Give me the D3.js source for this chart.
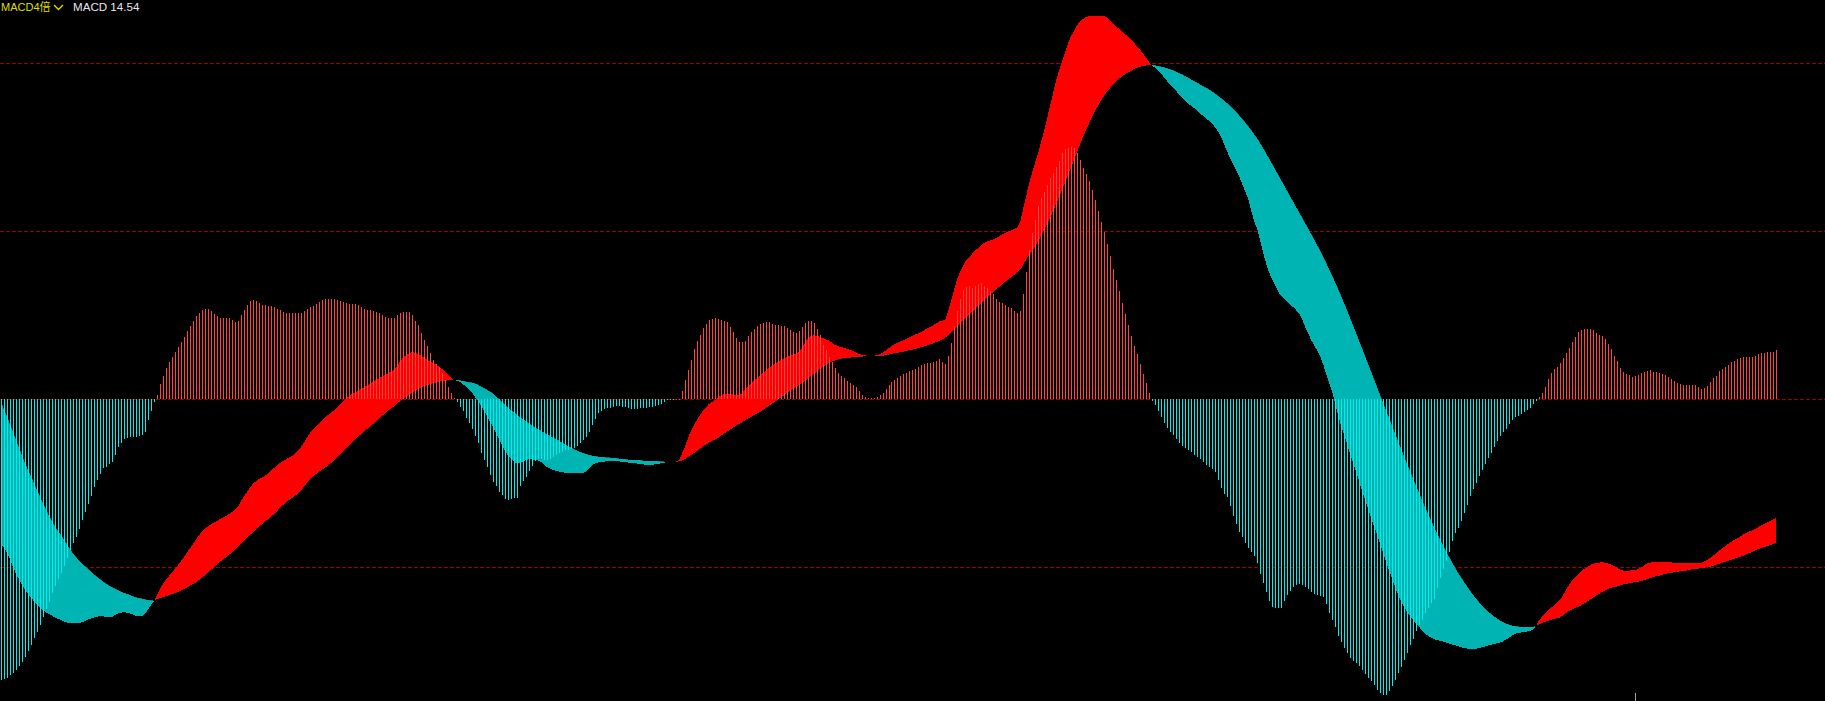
<!DOCTYPE html>
<html><head><meta charset="utf-8">
<script src="https://cdn.jsdelivr.net/npm/d3@7"></script>
<style>html,body{margin:0;padding:0;background:#000;overflow:hidden}</style>
</head><body>
<svg id="chart" width="1825" height="701"></svg>
<script>
// MACD histogram (red above zero, cyan below)
const macd = [
-83.5,-83.2,-82.8,-82.2,-81.5,-80.6,-79.5,-78.2,-76.7,-75.0,
-73.1,-71.1,-69.3,-67.2,-64.9,-62.5,-60.2,-57.7,-55.5,-53.6,
-51.6,-49.5,-47.3,-44.9,-42.7,-40.9,-38.6,-35.9,-33.4,-31.2,
-28.8,-26.0,-24.0,-22.2,-20.5,-20.1,-19.4,-18.6,-16.6,-14.1,
-13.1,-11.8,-11.6,-11.1,-11.1,-11.1,-10.9,-10.6,-9.6,-6.2,
-3.4,-0.7,
1.3,4.6,7.0,9.2,11.0,12.6,14.2,15.6,
17.0,18.6,20.2,21.8,23.4,24.8,25.8,26.6,27.0,26.9,
26.2,25.5,24.8,24.3,24.1,24.1,24.1,23.6,23.1,23.3,
25.0,26.6,28.2,29.4,29.7,29.2,28.6,28.2,28.0,27.9,
27.8,27.5,27.0,26.5,26.0,25.8,25.7,25.7,25.6,25.6,
25.8,26.2,26.8,27.4,27.9,28.3,28.9,29.5,29.9,30.0,
29.9,29.8,29.6,29.4,29.1,28.8,28.5,28.4,28.3,28.0,
27.4,26.9,26.7,26.5,26.3,26.0,25.7,25.1,24.5,24.1,
24.1,24.3,25.0,25.7,25.9,26.1,25.9,25.0,23.4,22.1,
19.6,17.6,15.9,13.7,11.7,10.5,9.6,7.8,5.7,3.8,
2.0,0.3,
-0.7,-2.2,-3.4,-5.7,-7.1,-8.9,-10.9,-12.9,
-15.9,-18.1,-20.1,-22.5,-24.5,-25.8,-27.5,-28.5,-29.8,-30.0,
-29.8,-29.5,-29.5,-25.8,-24.3,-23.0,-21.2,-19.8,-18.3,-17.9,
-17.9,-18.1,-18.1,-17.9,-17.3,-16.6,-16.1,-15.6,-15.1,-15.1,
-14.9,-14.6,-13.9,-13.1,-12.1,-11.3,-9.6,-7.6,-6.0,-4.2,
-3.4,-3.0,-2.7,-2.5,-2.2,-2.0,-2.0,-2.2,-2.4,-2.7,
-3.0,-3.0,-3.0,-2.7,-2.7,-2.5,-2.2,-2.2,-2.0,-1.7,
-1.4,-0.7,-0.2,-0.1,-0.2,0.1,
0.2,2.5,5.7,8.7,
11.7,15.0,17.4,19.2,21.1,22.4,23.6,24.0,24.1,23.9,
23.6,23.4,23.0,21.5,20.0,18.3,17.0,17.0,17.5,18.9,
19.9,20.9,21.8,22.4,22.8,23.0,23.0,22.5,22.0,22.0,
21.9,21.8,21.3,20.7,20.0,19.7,20.4,21.6,22.6,23.3,
23.2,22.8,21.0,19.2,16.2,14.6,12.7,11.1,9.4,7.9,
7.0,6.2,5.5,4.9,4.4,3.6,2.5,1.4,0.7,0.5,
0.4,0.5,0.8,1.2,1.9,3.2,4.3,5.0,5.6,6.3,
7.0,7.4,7.8,8.3,8.8,9.1,9.6,10.1,10.5,10.7,
10.9,11.1,11.5,11.9,11.1,10.5,12.9,16.7,21.8,26.3,
30.0,32.4,33.4,33.7,33.0,33.7,34.3,34.7,33.7,33.0,
32.3,31.2,29.9,29.1,28.6,28.1,27.6,27.1,26.3,25.8,
26.2,31.2,37.9,44.4,49.6,53.4,57.4,59.8,61.8,63.8,
65.8,67.4,69.0,71.0,73.2,74.4,74.9,75.0,74.8,73.2,
71.2,68.9,67.2,64.9,62.4,59.3,56.0,52.8,49.7,46.3,
42.7,38.9,35.5,32.3,28.8,25.3,22.1,18.7,16.0,13.5,
10.6,7.6,4.9,2.0,
-0.6,-1.8,-3.4,-5.2,-7.0,-8.5,
-9.7,-10.5,-11.8,-13.1,-13.8,-14.4,-15.1,-15.8,-16.5,-17.2,
-17.8,-18.6,-19.5,-20.1,-20.6,-21.6,-24.0,-26.5,-28.3,-29.2,
-31.8,-34.7,-37.2,-39.5,-41.1,-42.7,-44.3,-45.5,-46.7,-48.8,
-52.0,-54.6,-57.3,-60.0,-61.8,-62.1,-62.2,-62.0,-60.0,-58.3,
-57.0,-56.0,-55.3,-54.9,-55.2,-55.9,-56.6,-57.3,-57.8,-58.1,
-58.4,-58.8,-60.8,-63.5,-65.7,-67.8,-70.3,-72.1,-74.1,-75.6,
-77.1,-77.9,-78.6,-79.3,-80.6,-81.8,-82.9,-83.8,-85.0,-86.4,
-87.5,-88.1,-88.1,-86.8,-85.3,-83.4,-81.6,-79.6,-77.7,-75.4,
-73.0,-71.3,-69.0,-67.1,-65.6,-63.5,-62.1,-60.7,-59.5,-56.3,
-53.3,-50.6,-48.2,-45.4,-42.3,-39.8,-38.2,-36.3,-33.8,-31.4,
-28.9,-26.8,-24.9,-22.9,-20.9,-19.2,-17.6,-16.1,-14.2,-12.5,
-10.8,-9.7,-8.9,-7.4,-6.1,-5.3,-4.9,-4.4,-3.9,-3.1,
-2.5,-1.4,-0.5,
0.8,1.9,3.7,6.0,7.7,8.9,9.7,
10.9,12.4,13.8,15.3,17.0,18.4,20.0,20.6,20.9,20.9,
20.8,20.5,19.8,19.2,18.7,17.9,16.5,14.9,13.0,11.5,
9.2,8.1,7.5,7.1,6.6,6.8,7.3,7.7,8.2,8.5,
8.6,8.2,8.0,7.9,7.6,7.2,6.6,6.0,5.3,4.8,
4.5,4.2,4.2,4.4,4.4,4.2,3.7,3.0,3.4,4.0,
5.2,6.3,6.9,8.4,9.0,9.6,10.2,11.1,11.4,12.0,
12.3,12.5,12.6,12.6,12.7,13.0,13.5,13.8,13.9,14.1,
14.1,14.1,14.54
];

// DIF line
const dif = [
-42.9,-44.2,-45.6,-47.6,-49.9,-51.9,-53.6,-55.2,-56.6,-57.8,
-59.0,-60.1,-61.2,-62.0,-62.8,-63.4,-63.9,-64.4,-64.9,-65.3,
-65.7,-66.1,-66.4,-66.6,-66.7,-66.7,-66.6,-66.4,-66.0,-65.5,
-65.2,-64.9,-64.7,-64.5,-64.6,-64.8,-64.9,-64.8,-64.2,-63.7,
-63.5,-63.4,-63.5,-63.7,-64.1,-64.5,-64.5,-64.5,-63.8,-62.7,
-61.2,-60.2,
-58.3,-56.5,-55.0,-53.7,-52.6,-51.5,-50.5,-49.4,
-48.2,-47.0,-45.7,-44.4,-43.1,-41.8,-40.5,-39.4,-38.5,-37.8,
-37.2,-36.7,-36.2,-35.7,-35.2,-34.7,-34.2,-33.6,-33.0,-32.0,
-30.4,-29.0,-27.6,-26.3,-25.2,-24.4,-23.8,-23.3,-22.8,-22.1,
-21.3,-20.5,-19.7,-19.0,-18.4,-17.9,-17.4,-16.9,-16.2,-15.2,
-14.3,-12.9,-11.5,-10.1,-9.1,-8.1,-7.2,-6.3,-5.5,-4.7,
-4.0,-3.3,-2.5,-1.7,-0.8,0.1,0.9,1.5,2.0,2.5,
3.0,3.5,4.1,4.6,5.1,5.8,6.2,6.7,7.2,7.7,
8.2,8.7,9.6,11.2,12.3,13.1,13.6,14.0,13.9,13.5,
13.0,12.4,11.8,11.3,10.9,10.4,9.8,9.1,8.3,7.5,
6.5,5.8,
5.5,5.2,4.5,3.9,3.0,2.1,0.8,-0.4,
-1.7,-3.2,-4.9,-6.5,-8.1,-10.0,-11.7,-13.5,-15.1,-16.8,
-17.6,-18.5,-19.1,-19.1,-18.6,-18.1,-17.9,-17.9,-18.0,-18.1,
-18.6,-19.3,-20.1,-20.6,-21.0,-21.3,-21.5,-21.6,-21.8,-21.8,
-21.8,-21.8,-21.9,-22.0,-22.0,-21.5,-20.6,-19.8,-19.1,-18.8,
-18.7,-18.6,-18.4,-18.3,-18.3,-18.3,-18.4,-18.6,-18.7,-18.8,
-19.0,-19.1,-19.1,-19.2,-19.3,-19.5,-19.6,-19.5,-19.4,-19.3,
-19.1,-18.9,-18.7,-18.7,-18.6,-18.6,
-18.2,-16.4,-14.3,-11.9,
-9.6,-7.9,-6.3,-4.9,-3.5,-2.5,-1.5,-0.9,-0.3,0.4,
1.1,1.5,1.7,1.6,1.5,1.3,1.2,1.7,2.8,3.7,
4.6,5.5,6.2,6.9,7.7,8.5,9.3,9.9,10.6,11.0,
11.6,12.1,12.6,12.9,13.2,13.5,14.0,15.0,16.6,18.0,
18.8,19.0,18.9,18.6,18.2,17.9,17.5,16.9,16.3,15.9,
15.6,15.4,15.1,14.8,14.4,14.0,13.6,13.3,13.1,13.0,
13.0,13.0,13.1,13.4,13.9,14.5,15.2,15.8,16.5,16.8,
17.2,17.6,18.0,18.4,18.9,19.3,19.7,20.1,20.6,21.1,
21.6,22.1,22.6,23.2,23.4,23.8,26.5,29.7,33.0,36.0,
38.2,40.0,41.5,42.3,43.4,44.3,45.1,45.9,46.6,47.1,
47.3,47.6,48.0,48.6,49.1,49.6,50.0,50.3,50.7,51.3,
53.0,57.0,60.8,64.5,67.8,70.7,73.6,77.0,80.2,84.0,
87.8,91.5,95.2,98.2,100.8,103.5,106.2,108.3,109.8,111.5,
112.5,113.3,113.8,114.1,114.2,114.2,114.2,114.2,114.1,113.6,
112.6,111.8,110.9,110.2,109.4,108.6,107.9,107.0,106.0,104.9,
103.9,102.8,101.5,100.2,
99.2,98.6,97.8,96.9,95.7,94.6,
93.6,92.7,91.7,90.6,89.6,88.7,88.0,87.3,86.6,85.8,
85.0,84.3,83.5,82.8,82.0,80.8,79.6,77.9,75.8,73.6,
71.6,69.8,68.0,66.2,64.0,61.7,59.7,56.0,53.0,50.5,
47.0,43.5,40.2,37.6,35.5,33.7,32.0,30.7,29.8,29.0,
28.2,27.4,26.5,25.5,23.7,21.5,19.5,17.6,16.0,14.5,
12.8,10.3,7.5,4.8,2.1,-1.3,-4.9,-8.0,-10.7,-13.5,
-16.2,-19.0,-21.7,-24.5,-27.3,-30.0,-32.7,-35.5,-37.9,-40.3,
-43.0,-45.8,-48.5,-51.0,-53.5,-56.0,-58.2,-60.2,-61.8,-63.3,
-64.5,-65.7,-66.8,-67.8,-68.8,-69.7,-70.4,-70.9,-71.4,-71.7,
-71.9,-72.1,-72.4,-72.7,-73.0,-73.2,-73.5,-73.8,-74.0,-74.2,
-74.4,-74.4,-74.2,-74.0,-73.8,-73.6,-73.3,-73.0,-72.8,-72.6,
-72.4,-72.0,-71.5,-70.9,-70.3,-69.8,-69.5,-69.4,-69.3,-69.1,
-68.9,-68.6,-67.3,
-65.8,-64.6,-63.6,-62.7,-62.0,-61.4,-60.6,
-59.6,-58.3,-56.6,-55.2,-53.9,-52.9,-52.0,-51.2,-50.5,-50.0,
-49.4,-48.9,-48.7,-48.6,-48.5,-48.6,-48.9,-49.2,-49.6,-50.1,
-50.7,-51.0,-51.0,-51.0,-50.9,-50.8,-50.5,-50.1,-49.4,-48.9,
-48.6,-48.5,-48.4,-48.3,-48.3,-48.3,-48.3,-48.5,-48.7,-48.8,
-48.8,-48.7,-48.6,-48.6,-48.6,-48.6,-48.7,-48.8,-48.3,-47.8,
-47.2,-46.6,-45.9,-45.1,-44.4,-43.7,-43.1,-42.5,-41.9,-41.4,
-40.9,-40.3,-39.8,-39.4,-39.0,-38.6,-38.1,-37.6,-37.1,-36.6,
-36.2,-35.8,-35.4
];

// DEA line
const dea = [
-0.5,-3.0,-5.0,-7.5,-9.6,-12.0,-14.3,-16.6,-18.9,-21.0,
-22.8,-24.8,-26.9,-28.8,-30.8,-32.7,-34.6,-36.2,-37.8,-39.2,
-40.3,-41.7,-43.1,-44.5,-45.8,-46.9,-47.9,-48.8,-49.6,-50.4,
-51.2,-52.0,-52.8,-53.5,-54.2,-54.8,-55.4,-55.9,-56.3,-56.8,
-57.2,-57.6,-57.9,-58.2,-58.6,-58.9,-59.1,-59.3,-59.5,-59.7,
-59.8,-59.9,
-59.5,-59.2,-58.9,-58.6,-58.3,-58.0,-57.7,-57.4,
-57.0,-56.5,-56.0,-55.5,-55.0,-54.5,-53.8,-53.1,-52.4,-51.6,
-50.8,-50.0,-49.2,-48.4,-47.7,-47.0,-46.3,-45.6,-44.8,-44.0,
-43.1,-42.2,-41.3,-40.4,-39.6,-38.8,-38.0,-37.2,-36.4,-35.7,
-35.0,-34.2,-33.3,-32.4,-31.5,-30.7,-30.0,-29.4,-28.8,-28.0,
-27.2,-26.1,-24.9,-23.8,-23.0,-22.3,-21.6,-21.0,-20.4,-19.7,
-19.0,-18.2,-17.4,-16.5,-15.6,-14.7,-13.8,-12.9,-12.0,-11.2,
-10.4,-9.6,-8.9,-8.2,-7.4,-6.6,-5.8,-5.0,-4.2,-3.5,
-2.8,-2.1,-1.4,-0.6,0.1,0.7,1.3,1.9,2.5,3.0,
3.5,3.9,4.2,4.5,4.8,5.0,5.2,5.4,5.5,5.6,
5.7,5.8,
5.8,5.7,5.5,5.3,5.1,5.0,4.8,4.4,
3.9,3.4,2.9,2.4,1.8,1.0,0.2,-0.7,-1.5,-2.4,
-3.1,-3.8,-4.5,-5.2,-5.8,-6.4,-7.1,-7.7,-8.3,-8.8,
-9.3,-9.8,-10.3,-10.8,-11.3,-11.8,-12.2,-12.8,-13.3,-13.8,
-14.3,-14.8,-15.2,-15.6,-15.9,-16.2,-16.5,-16.7,-16.9,-17.0,
-17.1,-17.2,-17.3,-17.3,-17.4,-17.5,-17.6,-17.7,-17.8,-17.9,
-18.0,-18.0,-18.1,-18.1,-18.2,-18.3,-18.4,-18.4,-18.4,-18.4,
-18.5,-18.5,-18.6,-18.6,-18.6,-18.6,
-18.5,-18.3,-17.9,-17.3,
-16.7,-16.1,-15.5,-14.8,-14.1,-13.5,-13.0,-12.5,-12.1,-11.6,
-10.9,-10.3,-9.7,-9.1,-8.5,-7.9,-7.4,-6.9,-6.3,-5.8,
-5.3,-4.8,-4.3,-3.8,-3.3,-2.6,-2.0,-1.4,-0.8,-0.2,
0.5,1.1,1.8,2.4,3.0,3.6,4.2,4.8,5.4,6.1,
6.8,7.5,8.2,8.9,9.6,10.2,10.7,11.2,11.5,11.8,
12.1,12.2,12.3,12.4,12.5,12.6,12.7,12.7,12.8,12.8,
12.8,12.8,12.8,12.9,13.0,13.1,13.3,13.5,13.7,13.8,
14.0,14.2,14.4,14.6,14.8,15.0,15.3,15.5,15.8,16.1,
16.4,16.7,17.0,17.4,17.8,18.4,19.1,19.9,20.9,21.8,
22.8,23.6,24.5,25.3,26.1,27.0,27.9,28.7,29.6,30.4,
31.3,32.0,32.8,33.5,34.3,35.0,35.7,36.4,37.1,37.9,
38.7,40.1,41.8,43.0,44.3,45.7,47.1,48.8,50.5,52.3,
54.2,56.2,58.3,60.4,62.6,64.8,67.0,69.3,71.6,73.8,
76.1,78.3,80.4,82.3,84.2,86.0,87.6,89.1,90.5,91.7,
92.8,93.8,94.7,95.5,96.2,96.8,97.3,97.8,98.3,98.7,
99.0,99.2,99.4,99.5,
99.5,99.4,99.2,99.0,98.8,98.5,
98.2,97.9,97.5,97.1,96.7,96.2,95.7,95.2,94.7,94.2,
93.7,93.2,92.7,92.2,91.6,91.0,90.3,89.6,88.9,88.1,
87.3,86.4,85.5,84.5,83.5,82.4,81.3,80.1,78.9,77.6,
76.2,74.7,73.2,71.6,70.0,68.4,66.8,65.2,63.6,62.0,
60.4,58.8,57.2,55.6,54.0,52.4,50.8,49.2,47.6,45.9,
44.2,42.4,40.6,38.7,36.8,34.8,32.8,30.7,28.6,26.4,
24.2,22.0,19.7,17.4,15.1,12.8,10.5,8.2,5.9,3.6,
1.3,-1.0,-3.3,-5.6,-7.9,-10.2,-12.5,-14.8,-17.0,-19.2,
-21.4,-23.6,-25.8,-27.9,-30.0,-32.1,-34.1,-36.1,-38.0,-39.9,
-41.7,-43.5,-45.2,-46.9,-48.5,-50.1,-51.6,-53.0,-54.4,-55.7,
-57.0,-58.2,-59.3,-60.4,-61.4,-62.3,-63.1,-63.9,-64.6,-65.2,
-65.8,-66.3,-66.7,-67.0,-67.3,-67.5,-67.6,-67.7,-67.7,-67.7,
-67.7,-67.7,-67.3,
-67.0,-66.6,-66.2,-65.9,-65.6,-65.4,-65.2,
-64.9,-64.3,-63.6,-63.0,-62.5,-62.1,-61.8,-61.3,-60.8,-60.2,
-59.6,-59.0,-58.4,-57.9,-57.4,-56.9,-56.5,-56.1,-55.9,-55.7,
-55.4,-55.1,-54.9,-54.8,-54.6,-54.4,-54.3,-54.1,-53.8,-53.5,
-53.2,-52.9,-52.6,-52.5,-52.2,-52.0,-51.8,-51.6,-51.5,-51.4,
-51.2,-51.1,-51.0,-50.8,-50.6,-50.5,-50.4,-50.3,-50.1,-49.9,
-49.8,-49.6,-49.3,-49.0,-48.7,-48.4,-48.1,-47.8,-47.5,-47.2,
-46.9,-46.6,-46.2,-45.8,-45.4,-45.0,-44.6,-44.3,-44.0,-43.7,
-43.4,-43.1,-42.7
];

const gridValues = [100, 50, 0, -50];
const indicatorName = "MACD4倍";
const valueName = "MACD";
const markerIndex = 545;

const W = 1825, H = 701;
const svg = d3.select('#chart');
svg.append('rect').attr('width', W).attr('height', H).attr('fill', '#000');

const n = macd.length;
const x = d3.scaleLinear().domain([0, n - 1]).range([1, 1776]);
const y = d3.scaleLinear().domain([-50, 100]).range([567.3, 63.3]);

// grid
svg.append('g').selectAll('line').data(gridValues).join('line')
  .attr('x1', 0).attr('x2', W)
  .attr('y1', d => Math.round(y(d)) + 0.5).attr('y2', d => Math.round(y(d)) + 0.5)
  .attr('stroke', '#9a0000').attr('stroke-width', 1)
  .attr('stroke-dasharray', '4,2').attr('shape-rendering', 'crispEdges');

// band between DIF and DEA
const idx = d3.range(n);
const band = d3.area().x(i => x(i)).y0(i => y(dea[i])).y1(i => y(dif[i]));
const above = d3.area().x(i => x(i)).y0(0).y1(i => y(dea[i]));
const below = d3.area().x(i => x(i)).y0(i => y(dea[i])).y1(H);
const defs = svg.append('defs');
defs.append('clipPath').attr('id', 'clipUp').append('path').attr('d', above(idx));
defs.append('clipPath').attr('id', 'clipDown').append('path').attr('d', below(idx));
svg.append('path').attr('d', band(idx)).attr('fill', '#ff0000')
  .attr('clip-path', 'url(#clipUp)').attr('shape-rendering', 'crispEdges');
svg.append('path').attr('d', band(idx)).attr('fill', '#00b4b4')
  .attr('clip-path', 'url(#clipDown)').attr('shape-rendering', 'crispEdges');

// histogram bars
const y0 = Math.round(y(0));
svg.append('g').selectAll('rect').data(macd).join('rect')
  .attr('x', (d, i) => Math.round(x(i)))
  .attr('width', 1)
  .attr('y', d => d >= 0 ? Math.round(y(d)) : y0)
  .attr('height', d => Math.max(1, Math.abs(Math.round(y(d)) - y0)))
  .attr('fill', d => d >= 0 ? '#ff4444' : '#00eeee')
  .attr('shape-rendering', 'crispEdges');

// marker tick at bottom
svg.append('line')
  .attr('x1', Math.round(x(markerIndex)) + 0.5).attr('x2', Math.round(x(markerIndex)) + 0.5)
  .attr('y1', 693).attr('y2', H)
  .attr('stroke', '#a0a0a0').attr('stroke-width', 1).attr('shape-rendering', 'crispEdges');

// header
const font = "'Liberation Sans', Arial, 'Noto Sans CJK SC', sans-serif";
svg.append('text').attr('x', 1).attr('y', 10.5)
  .attr('font-family', font).attr('font-size', 11).attr('fill', '#dede00')
  .text(indicatorName);
svg.append('path').attr('d', 'M54,5 L58.5,9.5 L63,5')
  .attr('fill', 'none').attr('stroke', '#dede00').attr('stroke-width', 1.3);
svg.append('text').attr('x', 73).attr('y', 10.5)
  .attr('font-family', font).attr('font-size', 11.6).attr('fill', '#e6e6f0')
  .text(valueName + ' ' + d3.format('.2f')(macd[n - 1]));
</script>
</body></html>
